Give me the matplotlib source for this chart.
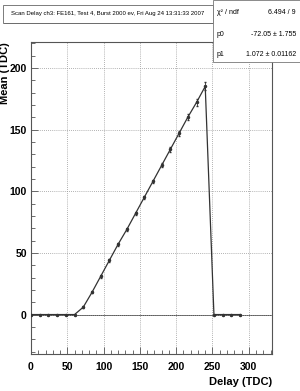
import matplotlib
matplotlib.use("Agg")
import matplotlib.pyplot as plt
from matplotlib.ticker import MultipleLocator
from matplotlib.patches import Rectangle

plt.rcParams['font.family'] = ['Liberation Sans', 'DejaVu Sans']

delay = [0, 12, 24, 36, 48, 60, 72, 84, 96, 108, 120, 132, 144, 156, 168, 180,
         192, 204, 216, 228, 240, 252, 264, 276, 288]
mean = [0, 0, 0, 0, 0, 0, 6, 18, 31, 44, 57, 69, 82, 95, 108, 121,
        134, 147, 160, 172, 185, 0, 0, 0, 0]
err = [0, 0, 0, 0, 0, 0, 0.8, 0.9, 1.0, 1.0, 1.1, 1.2, 1.3, 1.4, 1.5, 1.6,
       1.8, 2.0, 2.3, 2.7, 3.2, 0, 0, 0, 0]

title = "Scan Delay ch3: FE161, Test 4, Burst 2000 ev, Fri Aug 24 13:31:33 2007"
stats = [("\u03c7\u00b2 / ndf", "6.494 / 9"),
         ("p0", "-72.05 \u00b1 1.755"),
         ("p1", "1.072 \u00b1 0.01162")]

fig = plt.figure(figsize=(3.0, 3.91), dpi=100)
ax = fig.add_axes([0.1033, 0.0946, 0.8034, 0.798])

ax.set_xlim(0, 332)
ax.set_ylim(-32, 221)

ax.grid(True, which='major', color='#999999', linestyle=(0, (1, 1.5)), linewidth=0.6)
ax.axhline(0, color='#555555', linewidth=0.7, zorder=1)
ax.errorbar(delay, mean, yerr=err, color='#333333', linewidth=0.9,
            marker='o', markersize=1.5, elinewidth=0.6, capsize=1.0, zorder=3)

ax.xaxis.set_major_locator(MultipleLocator(50))
ax.xaxis.set_minor_locator(MultipleLocator(10))
ax.yaxis.set_major_locator(MultipleLocator(50))
ax.yaxis.set_minor_locator(MultipleLocator(10))
ax.tick_params(which='both', direction='in', color='#555555', width=0.6)
ax.tick_params(which='major', length=5, labelsize=7.5, pad=3)
ax.tick_params(which='minor', length=3)
ax.tick_params(axis='x', pad=6)
for lab in ax.get_xticklabels() + ax.get_yticklabels():
    lab.set_fontweight('bold')
for s in ax.spines.values():
    s.set_color('#555555')
    s.set_linewidth(0.8)

ax.set_xlabel("Delay (TDC)", fontsize=8, fontweight='bold', loc='right', labelpad=3)
ax.set_ylabel("Mean (TDC)", fontsize=8, fontweight='bold', loc='top', labelpad=0)

# title box with shadow
W, H = 300.0, 391.0
def fx(px): return px / W
def fy(py): return 1 - py / H
fig.patches.append(Rectangle((fx(4), fy(24)), fx(214) - fx(2), fy(6) - fy(24),
                             transform=fig.transFigure, facecolor='#333333',
                             edgecolor='none', zorder=5))
fig.patches.append(Rectangle((fx(3), fy(23)), fx(213) - fx(3), fy(5) - fy(23),
                             transform=fig.transFigure, facecolor='white',
                             edgecolor='#666666', linewidth=0.6, zorder=6))
fig.text(fx(108), fy(14), title, fontsize=4.3, ha='center', va='center', zorder=7)

# stats box
fig.patches.append(Rectangle((fx(213), fy(62)), fx(299.5) - fx(213), fy(0.5) - fy(62),
                             transform=fig.transFigure, facecolor='white',
                             edgecolor='#777777', linewidth=0.6, zorder=6))
rows_y = [13, 34, 54]
for (k, v), yy in zip(stats, rows_y):
    fig.text(fx(217), fy(yy), k, fontsize=5, ha='left', va='center', zorder=7)
    fig.text(fx(296), fy(yy), v, fontsize=5, ha='right', va='center', zorder=7)

fig.savefig("out.png", dpi=100)
